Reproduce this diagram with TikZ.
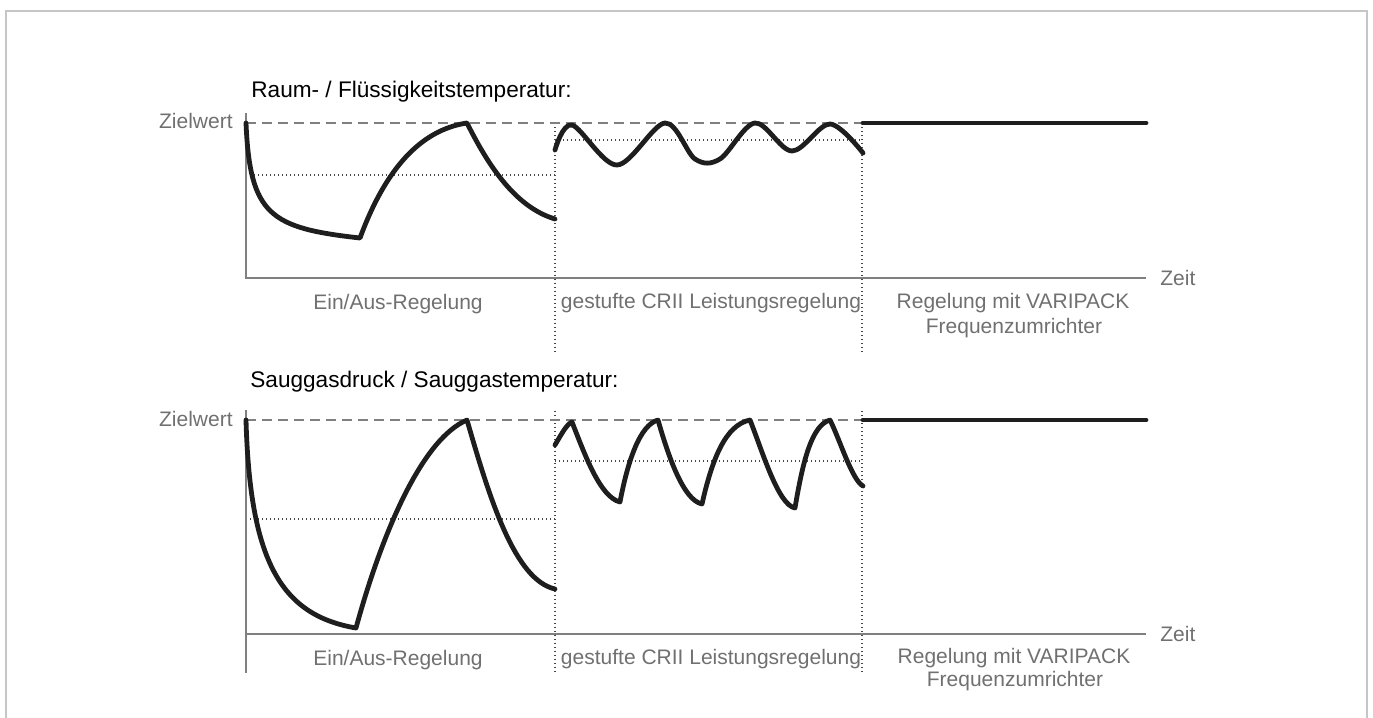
\documentclass[tikz,border=0pt]{standalone}
\usepackage{fontspec}
\setmainfont{Liberation Sans}
\definecolor{axisgray}{RGB}{128,128,128}
\definecolor{dotgray}{RGB}{70,70,70}
\definecolor{curveblack}{RGB}{30,30,30}
\definecolor{lblgray}{RGB}{112,112,112}
\definecolor{framegray}{RGB}{198,198,198}
\begin{document}
\begin{tikzpicture}[x=0.5pt,y=-0.5pt,
  axis/.style={draw=axisgray, line width=0.9pt},
  zielline/.style={draw=axisgray, line width=0.7pt, dash pattern=on 5pt off 3pt},
  guide/.style={draw=dotgray, line width=0.55pt, dash pattern=on 0.5pt off 1.5pt},
  curve/.style={draw=curveblack, line width=2.4pt, line cap=round, line join=round},
  lbl/.style={text=lblgray, font=\fontsize{10.5pt}{12.6pt}\selectfont, inner sep=0pt},
  ttl/.style={text=black, font=\fontsize{11.3pt}{13.5pt}\selectfont, inner sep=0pt}]
\useasboundingbox (0,0) rectangle (1373,718);
% frame
\draw[framegray, line width=1.4pt] (6,718) -- (6,11) -- (1367,11) -- (1367,718);

% ===== top chart =====
\draw[guide] (555,123) -- (555,352);
\draw[guide] (862,123) -- (862,352);
\draw[guide] (246,175) -- (555,175);
\draw[guide] (555,140) -- (862,140);
\draw[zielline] (246,123) -- (862,123);
\draw[axis] (246,113) -- (246,278) -- (1146,278);
\draw[curve] (246,123) .. controls (250,215) and (270,228) .. (360,238)
  .. controls (385,170) and (420,130) .. (467,123)
  .. controls (488,165) and (515,207) .. (555,219);
\draw[curve] plot[smooth, tension=0.55] coordinates {(555,150) (572,125) (617,165) (665,123) (695,159) (720,159) (755,123) (792,151) (830,124) (863,153)};
\draw[curve] (863,123) -- (1146,123);

\node[ttl, anchor=base west] (t1) at (251,97) {Raum- / Flüssigkeitstemperatur:};
\node[lbl, anchor=base east] (z1) at (233,128) {Zielwert};
\node[lbl, anchor=base west] (zeit1) at (1160,285) {Zeit};
\node[lbl, anchor=base] (ea1) at (398,309) {Ein/Aus-Regelung};
\node[lbl, anchor=base] (cr1) at (711,308) {gestufte CRII Leistungsregelung};
\node[lbl, anchor=base] (vp1) at (1013,308) {Regelung mit VARIPACK};
\node[lbl, anchor=base] (fu1) at (1014,333) {Frequenzumrichter};

% ===== bottom chart =====
\draw[guide] (555,411) -- (555,673);
\draw[guide] (862,411) -- (862,673);
\draw[guide] (246,519) -- (555,519);
\draw[guide] (555,461) -- (862,461);
\draw[zielline] (246,420) -- (862,420);
\draw[axis] (246,410) -- (246,673);
\draw[axis] (246,634) -- (1146,634);
\draw[curve] (246,420) .. controls (250,560) and (280,615) .. (356,628)
  .. controls (380,540) and (420,440) .. (467,420)
  .. controls (490,500) and (515,580) .. (555,589);
\draw[curve] (555,445) .. controls (562,433) and (567,424) .. (572,422)
  .. controls (585,455) and (600,497) .. (620,502)
  .. controls (628,460) and (640,425) .. (658,420)
  .. controls (668,455) and (683,500) .. (702,504)
  .. controls (712,460) and (725,425) .. (750,420)
  .. controls (762,450) and (778,505) .. (795,508)
  .. controls (803,460) and (812,425) .. (830,420)
  .. controls (840,440) and (852,480) .. (863,486);
\draw[curve] (863,420) -- (1146,420);

\node[ttl, anchor=base west] (t2) at (250,387) {Sauggasdruck / Sauggastemperatur:};
\node[lbl, anchor=base east] (z2) at (233,426) {Zielwert};
\node[lbl, anchor=base west] (zeit2) at (1160,641) {Zeit};
\node[lbl, anchor=base] (ea2) at (398,665) {Ein/Aus-Regelung};
\node[lbl, anchor=base] (cr2) at (711,664) {gestufte CRII Leistungsregelung};
\node[lbl, anchor=base] (vp2) at (1014,663) {Regelung mit VARIPACK};
\node[lbl, anchor=base] (fu2) at (1015,686) {Frequenzumrichter};
\end{tikzpicture}
\end{document}
